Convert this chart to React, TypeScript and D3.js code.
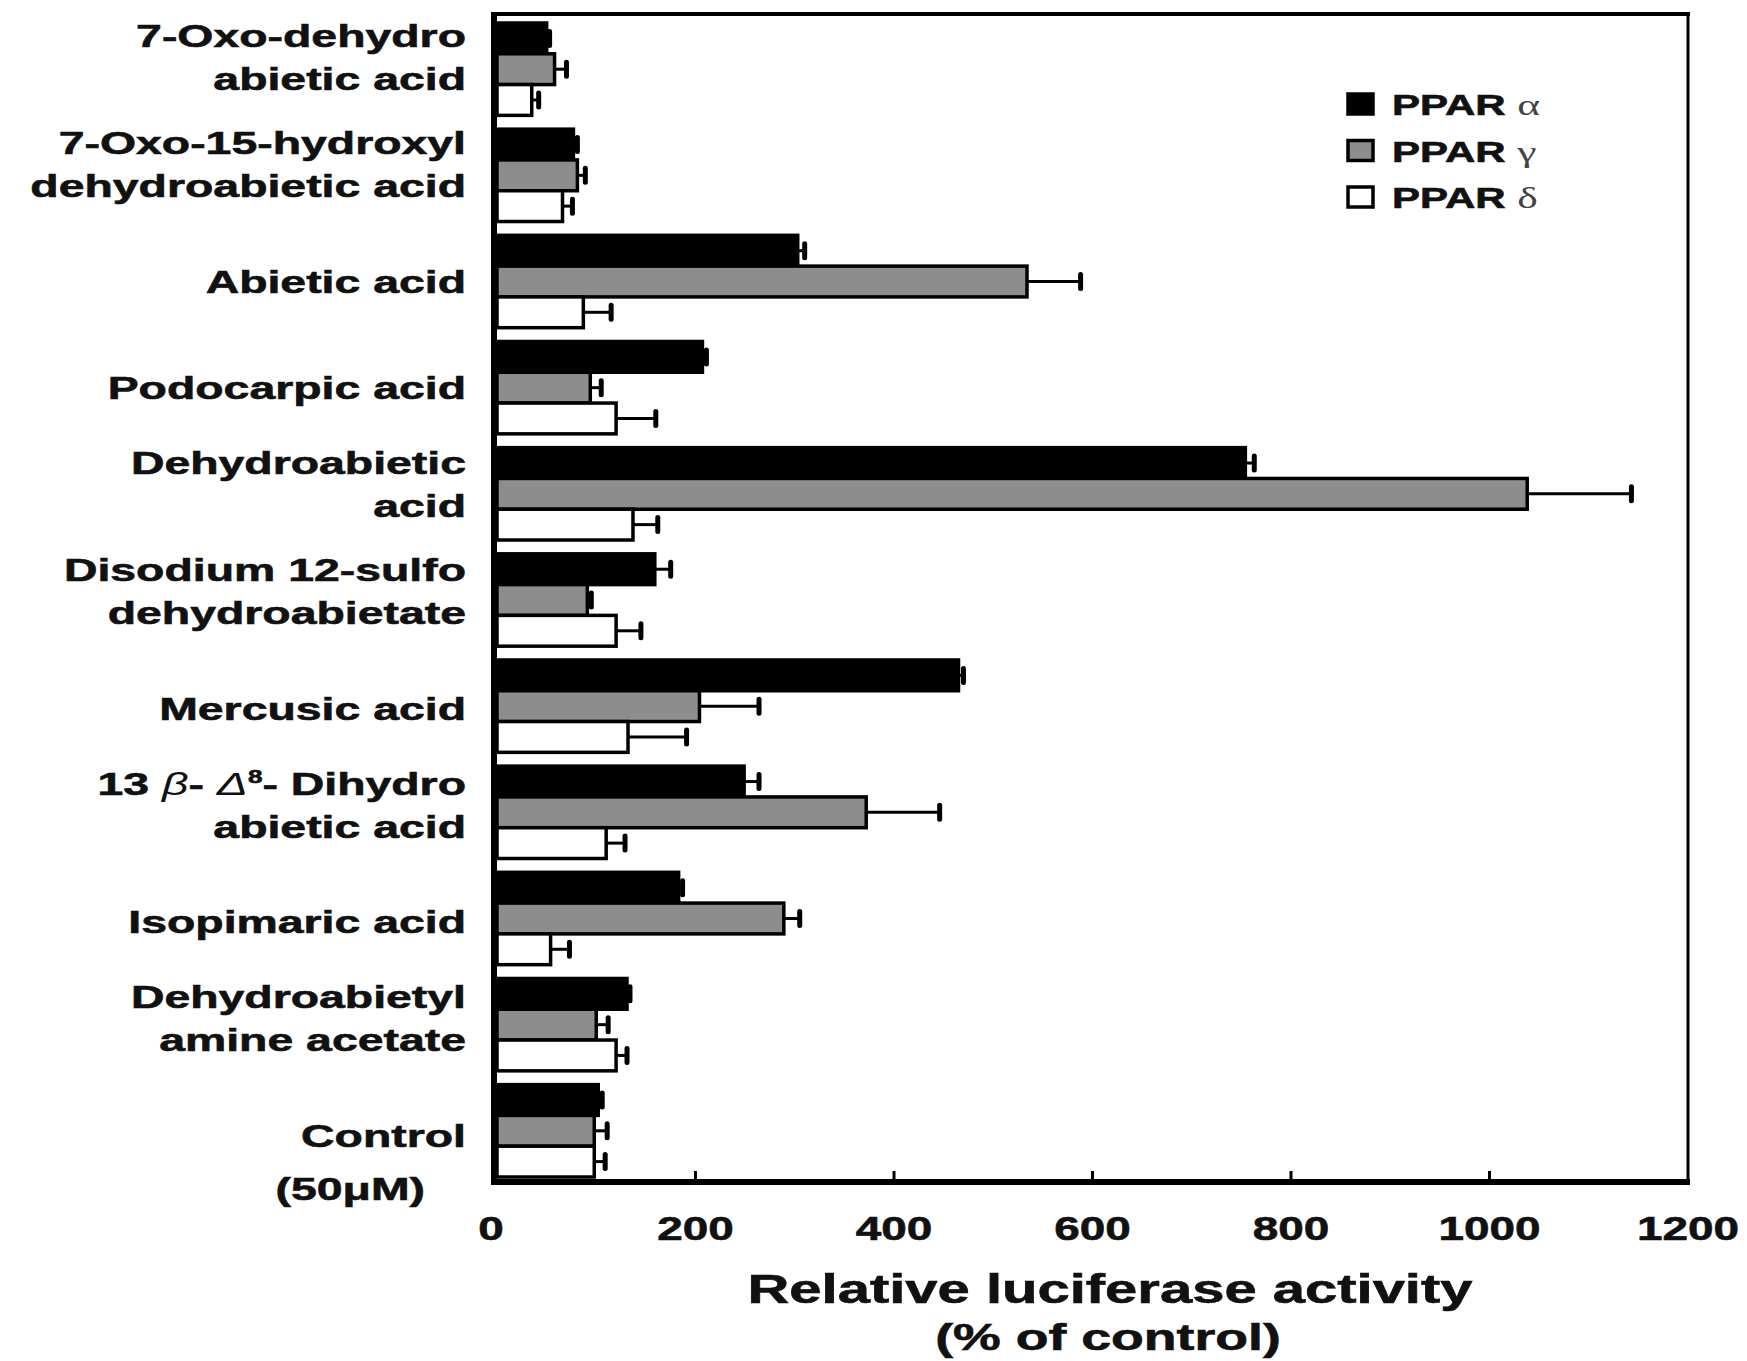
import React, { useRef, useEffect } from 'react';
import * as d3 from 'd3';

const categories = [
  '7-Oxo-dehydroabietic acid',
  '7-Oxo-15-hydroxyl dehydroabietic acid',
  'Abietic acid',
  'Podocarpic acid',
  'Dehydroabietic acid',
  'Disodium 12-sulfo dehydroabietate',
  'Mercusic acid',
  '13β-Δ8-Dihydro abietic acid',
  'Isopimaric acid',
  'Dehydroabietyl amine acetate',
  'Control',
];

const labelLines = [
  ['7-Oxo-dehydro', 'abietic acid'],
  ['7-Oxo-15-hydroxyl', 'dehydroabietic acid'],
  ['Abietic acid'],
  ['Podocarpic acid'],
  ['Dehydroabietic', 'acid'],
  ['Disodium 12-sulfo', 'dehydroabietate'],
  ['Mercusic acid'],
  ['13β-Δ8-Dihydro', 'abietic acid'],
  ['Isopimaric acid'],
  ['Dehydroabietyl', 'amine acetate'],
  ['Control'],
];

const series = ['PPAR α', 'PPAR γ', 'PPAR δ'];
const seriesFill = ['#000000', '#8d8d8d', '#ffffff'];

const alphaValues = [50, 77, 303, 207, 754, 159, 465, 249, 183, 131, 102];
const alphaErrors = [3, 4, 7, 4, 9, 16, 5, 15, 4, 3, 4];
const gammaValues = [58, 81, 534, 94, 1038, 91, 204, 372, 289, 100, 98];
const gammaErrors = [12, 8, 54, 11, 105, 4, 60, 74, 16, 12, 13];
const deltaValues = [35, 66, 87, 120, 137, 120, 132, 110, 54, 120, 98];
const deltaErrors = [7, 10, 28, 40, 25, 25, 59, 19, 19, 11, 11];

const xTicks = [0, 200, 400, 600, 800, 1000, 1200];

const W = 1747;
const H = 1361;
const SX = 1.45; // the figure is stretched horizontally
const FONT = '"Liberation Sans", Arial, sans-serif';

const App = () => {
  const svgRef = useRef<SVGSVGElement>(null);

  useEffect(() => {
    const svg = d3.select(svgRef.current);
    svg.selectAll('*').remove();
    svg.attr('width', W).attr('height', H);
    svg.append('rect').attr('width', W).attr('height', H).attr('fill', '#fff');

    const x = d3.scaleLinear().domain([0, 1200]).range([497, 1688]);
    const y = d3.scaleBand().domain(categories).range([23, 1177]).paddingInner(0.13).paddingOuter(0);
    const ySub = d3.scaleBand().domain(series).range([0, y.bandwidth()]).padding(0);

    const values = [alphaValues, gammaValues, deltaValues];
    const errors = [alphaErrors, gammaErrors, deltaErrors];

    const rows = categories.flatMap((c, i) =>
      series.map((s, j) => ({ c, s, j, v: values[j][i], e: errors[j][i] }))
    );

    const g = svg.append('g');

    // bars
    g.selectAll('.bar')
      .data(rows)
      .enter()
      .append('rect')
      .attr('x', x(0))
      .attr('y', (d) => y(d.c)! + ySub(d.s)!)
      .attr('width', (d) => x(d.v) - x(0))
      .attr('height', ySub.bandwidth())
      .attr('fill', (d) => seriesFill[d.j])
      .attr('stroke', '#000')
      .attr('stroke-width', 3.5);

    // error bars
    const cy = (d) => y(d.c)! + ySub(d.s)! + ySub.bandwidth() / 2;
    g.selectAll('.err')
      .data(rows)
      .enter()
      .append('line')
      .attr('x1', (d) => x(d.v))
      .attr('x2', (d) => x(d.v + d.e))
      .attr('y1', cy)
      .attr('y2', cy)
      .attr('stroke', '#000')
      .attr('stroke-width', 3);
    g.selectAll('.cap')
      .data(rows)
      .enter()
      .append('line')
      .attr('x1', (d) => x(d.v + d.e))
      .attr('x2', (d) => x(d.v + d.e))
      .attr('y1', (d) => cy(d) - 7)
      .attr('y2', (d) => cy(d) + 7)
      .attr('stroke', '#000')
      .attr('stroke-width', 5)
      .attr('stroke-linecap', 'round');

    // frame
    svg.append('line').attr('x1', 492).attr('x2', 1690).attr('y1', 14).attr('y2', 14)
      .attr('stroke', '#000').attr('stroke-width', 4);
    svg.append('line').attr('x1', 1688).attr('x2', 1688).attr('y1', 12).attr('y2', 1184)
      .attr('stroke', '#000').attr('stroke-width', 3);
    svg.append('line').attr('x1', 494).attr('x2', 494).attr('y1', 12).attr('y2', 1185)
      .attr('stroke', '#000').attr('stroke-width', 6);
    svg.append('line').attr('x1', 491).attr('x2', 1690).attr('y1', 1182).attr('y2', 1182)
      .attr('stroke', '#000').attr('stroke-width', 6);

    // ticks (inward)
    svg.selectAll('.tick')
      .data(xTicks.slice(1, -1))
      .enter()
      .append('line')
      .attr('x1', (d) => x(d))
      .attr('x2', (d) => x(d))
      .attr('y1', 1182)
      .attr('y2', 1171)
      .attr('stroke', '#000')
      .attr('stroke-width', 3);

    const boldText = (sel, size) =>
      sel.attr('font-family', FONT)
        .attr('font-weight', 'bold')
        .attr('font-size', size)
        .attr('fill', '#111')
        .attr('stroke', '#111')
        .attr('stroke-width', 0.6);

    boldText(
      svg.selectAll('.ticklabel')
        .data(xTicks)
        .enter()
        .append('text')
        .attr('transform', (d) => `translate(${d === 0 ? x(d) - 6 : x(d)},1240) scale(1.35,1)`)
        .attr('text-anchor', 'middle'),
      34
    ).text((d) => d);

    // axis title
    boldText(
      svg.append('text')
        .attr('transform', `translate(1110,1303) scale(${SX},1)`)
        .attr('text-anchor', 'middle'),
      40
    ).text('Relative luciferase activity');
    boldText(
      svg.append('text')
        .attr('transform', `translate(1108,1350) scale(${SX},1)`)
        .attr('text-anchor', 'middle'),
      37
    ).text('(% of control)');

    // category labels
    categories.forEach((c, i) => {
      const mid = y(c)! + y.bandwidth() / 2;
      const drift = i * 0.6;
      const lines = labelLines[i];
      const ys = lines.length === 1 ? [mid + 10 + drift] : [mid - 22 + drift, mid + 21 + drift];
      lines.forEach((line, k) => {
        const t = boldText(
          svg.append('text')
            .attr('transform', `translate(466,${ys[k]}) scale(${SX},1)`)
            .attr('text-anchor', 'end'),
          32
        );
        if (line.startsWith('13β')) {
          t.append('tspan').text('13 ');
          t.append('tspan').attr('font-style', 'italic').attr('font-weight', 'normal').attr('stroke-width', 0).text('β');
          t.append('tspan').text('- ');
          t.append('tspan').attr('font-style', 'italic').attr('font-weight', 'normal').attr('stroke-width', 0).text('Δ');
          t.append('tspan').attr('font-size', 18).attr('dy', -12).text('8');
          t.append('tspan').attr('dy', 12).text('- Dihydro');
        } else {
          t.text(line);
        }
      });
    });

    boldText(
      svg.append('text')
        .attr('transform', `translate(425,1200) scale(${SX},1)`)
        .attr('text-anchor', 'end'),
      32
    ).text('(50μM)');

    // legend
    const greek = ['α', 'γ', 'δ'];
    const leg = svg.append('g');
    series.forEach((s, j) => {
      const by = 115 + j * 46.5;
      leg.append('rect')
        .attr('x', 1348).attr('y', by - 21).attr('width', 25).attr('height', 20)
        .attr('fill', seriesFill[j]).attr('stroke', '#000').attr('stroke-width', 3.5);
      const t = boldText(
        leg.append('text').attr('transform', `translate(1392,${by}) scale(${SX},1)`),
        29
      );
      t.append('tspan').text('PPAR ');
      t.append('tspan')
        .attr('font-family', '"Liberation Serif", "Times New Roman", serif')
        .attr('font-weight', 'normal')
        .attr('font-size', 30)
        .attr('fill', '#444')
        .attr('stroke-width', 0)
        .text(greek[j]);
    });
  }, []);

  return <svg ref={svgRef} style={{ position: 'absolute', left: 0, top: 0, display: 'block' }}></svg>;
};

export default App;
